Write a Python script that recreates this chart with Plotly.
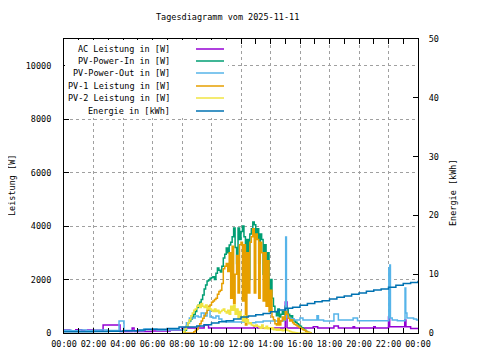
import numpy as np
import plotly.graph_objects as go

# ---------------- data ----------------
tick_hours = [0, 2, 4, 6, 8, 10, 12, 14, 16, 18, 20, 22, 24]
tick_labels = ["00:00", "02:00", "04:00", "06:00", "08:00", "10:00", "12:00",
               "14:00", "16:00", "18:00", "20:00", "22:00", "00:00"]

# AC Leistung [W] (hour, value)
ac_power = [(0, 110), (0.4, 75), (0.8, 120), (1.2, 90), (1.6, 110), (2.0, 100),
            (2.65, 300), (3.8, 60), (4.5, 60), (4.62, 190), (4.75, 60), (6.0, 75),
            (7.2, 110), (8.0, 190), (9.5, 300), (9.8, 190), (11.0, 190), (12.9, 230),
            (13.1, 190), (15.0, 1160), (15.12, 190), (16.2, 190), (16.9, 230),
            (17.2, 190), (18.3, 260), (18.6, 190), (19.6, 230), (19.7, 190),
            (21.0, 230), (21.1, 190), (22.0, 600), (22.08, 230), (23.1, 490),
            (23.18, 230), (23.5, 170), (24.0, 170)]

# PV-Power-Out [W]
pv_out = [(0, 100), (0.5, 80), (1.0, 110), (1.5, 90), (2.0, 100), (2.5, 110),
          (3.0, 90), (3.73, 450), (4.07, 90), (4.5, 80), (5.4, 150), (6.3, 110),
          (7.2, 120), (8.1, 150), (8.3, 380), (8.5, 560), (8.7, 560), (8.9, 640),
          (9.1, 600), (9.3, 750), (9.5, 640), (9.7, 850), (9.9, 600), (10.1, 560),
          (10.3, 640), (10.5, 520), (10.7, 450), (11.0, 410), (11.5, 410),
          (12.0, 410), (12.5, 380), (13.0, 410), (13.5, 450), (14.0, 450),
          (14.5, 450), (14.9, 490), (15.03, 3590), (15.08, 600), (15.3, 530),
          (15.6, 490), (16.0, 560), (16.2, 490), (16.6, 490), (17.15, 650),
          (17.25, 490), (17.6, 450), (18.3, 710), (18.6, 490), (19.6, 560),
          (19.9, 460), (22.02, 2430), (22.06, 600), (22.09, 2540), (22.13, 560),
          (22.25, 490), (22.6, 460), (23.12, 1680), (23.17, 750), (23.25, 560),
          (23.7, 520), (23.9, 490), (24.0, 490)]

# daytime grid (hours) for PV-Power-In, PV-1, PV-2
day_hours = np.round(np.arange(8.0, 16.85, 0.1), 1)

pv_in = [0, 0, 100, 260, 380, 450, 520, 600, 700, 800,
         950, 1050, 1150, 1250, 1420, 1650, 1800, 1950, 1980, 2050,
         2080, 2100, 2000, 2240, 2430, 2350, 2280, 2500, 2810, 2950,
         3180, 3000, 3290, 3400, 3600, 3930, 3200, 2600, 3930, 3500,
         3800, 4000, 3600, 2400, 3500, 2000, 3700, 3900, 4150, 4050,
         3600, 3900, 2600, 3700, 3500, 2200, 3300, 2000, 3000, 1500,
         2000, 1300, 1000, 800, 650, 900, 600, 700, 800, 700,
         1000, 900, 700, 600, 650, 500, 450, 400, 350, 300,
         250, 200, 150, 100, 60, 30, 0, 0, 0]

pv1 = [0, 0, 0, 0, 0, 0, 0, 0, 50, 100,
       150, 250, 350, 450, 550, 650, 750, 850, 1000, 1050,
       1150, 1200, 1250, 1300, 1450, 1550, 1600, 1850, 2400, 2500,
       2600, 2300, 3000, 1300, 3250, 1100, 2200, 2900, 1500, 3300,
       3400, 1200, 3300, 300, 3000, 1500, 3400, 3600, 3900, 1500,
       3700, 3500, 1300, 3400, 3000, 1200, 3000, 1000, 2700, 800,
       1600, 600, 500, 350, 300, 550, 300, 450, 600, 500,
       800, 700, 550, 450, 500, 380, 330, 300, 260, 220,
       190, 160, 120, 90, 60, 30, 15, 0, 0]

pv2 = [0, 50, 150, 250, 380, 500, 650, 750, 850, 900,
       1000, 1050, 950, 1100, 1000, 950, 1050, 900, 950, 900,
       850, 800, 900, 800, 850, 750, 800, 850, 900, 800,
       750, 850, 700, 1000, 850, 1050, 700, 900, 550, 800,
       600, 450, 650, 400, 500, 350, 380, 300, 280, 250,
       300, 250, 220, 180, 300, 200, 170, 250, 160, 200,
       150, 200, 120, 150, 100, 150, 100, 120, 80, 100,
       150, 100, 80, 60, 40, 30, 20, 10, 0, 0,
       0, 0, 0, 0, 0, 0, 0, 0, 0]

# Energie [kWh]
energy = [(0, 0.2), (1, 0.2), (2, 0.25), (3, 0.3), (4, 0.4), (5, 0.5), (5.5, 0.6),
          (6, 0.65), (7, 0.75), (7.8, 1.0), (8.5, 1.0), (9, 1.2), (9.5, 1.4),
          (10, 1.7), (10.5, 1.9), (11, 2.1), (11.5, 2.4), (12, 2.7), (12.5, 2.9),
          (13, 3.1), (13.5, 3.3), (14, 3.6), (14.5, 3.9), (15, 4.2), (15.5, 4.4),
          (16, 4.7), (16.5, 5.0), (17, 5.3), (17.5, 5.5), (18, 5.8), (18.5, 6.1),
          (19, 6.3), (19.5, 6.6), (20, 6.8), (20.5, 7.1), (21, 7.3), (21.5, 7.5),
          (22, 7.8), (22.5, 8.1), (23, 8.4), (23.5, 8.6), (24, 8.9)]

series_names = ["AC Leistung in [W]", "PV-Power-In in [W]", "PV-Power-Out in [W]",
                "PV-1 Leistung in [W]", "PV-2 Leistung in [W]", "Energie in [kWh]"]
series_colors = ["#9400D3", "#009E73", "#56B4E9", "#E69F00", "#F0E442", "#0072B2"]

# ---------------- figure ----------------
FONT = "DejaVu Sans Mono"
OFF = 8                      # page body margin of the browser
W, H = 480 - OFF, 360 - OFF
# target plot box in window pixels: x 64..418, y 39..333
PL, PR, PT, PB = 64, 418, 39, 333
L, T = PL - OFF, PT - OFF
R, B = W - (PR - OFF), H - (PB - OFF)
PW, PH = PR - PL, PB - PT


def px_x(x):
    return (x - PL) / PW


def px_y(y):
    return (PB - y) / PH


def unzip(pairs):
    return [p[0] for p in pairs], [p[1] for p in pairs]


fig = go.Figure()
lw = 1.5
x, y = unzip(ac_power)
fig.add_trace(go.Scatter(x=x, y=y, mode="lines", line=dict(color=series_colors[0], width=lw, shape="hv")))
fig.add_trace(go.Scatter(x=day_hours, y=pv_in, mode="lines", line=dict(color=series_colors[1], width=lw, shape="hv")))
x, y = unzip(pv_out)
fig.add_trace(go.Scatter(x=x, y=y, mode="lines", line=dict(color=series_colors[2], width=lw, shape="hv")))
fig.add_trace(go.Scatter(x=day_hours, y=pv1, mode="lines", line=dict(color=series_colors[3], width=lw, shape="hv")))
fig.add_trace(go.Scatter(x=day_hours, y=pv2, mode="lines", line=dict(color=series_colors[4], width=lw, shape="hv")))
x, y = unzip(energy)
fig.add_trace(go.Scatter(x=x, y=y, mode="lines", yaxis="y2", line=dict(color=series_colors[5], width=lw, shape="hv")))

grid = dict(showgrid=True, gridcolor="#a0a0a0", gridwidth=1, griddash="3px,3px")

fig.update_layout(
    width=W, height=H, autosize=False,
    margin=dict(l=L, r=R, t=T, b=B, pad=0),
    paper_bgcolor="white", plot_bgcolor="white",
    showlegend=False,
    font=dict(family=FONT, size=8.5, color="black"),
    xaxis=dict(range=[0, 24], tickmode="array", tickvals=tick_hours, ticktext=tick_labels,
               ticks="inside", ticklen=5, tickcolor="black",
               minor=dict(tickmode="linear", tick0=0, dtick=1, ticks="inside", ticklen=3,
                          tickcolor="black", showgrid=False),
               showline=True, linecolor="black", linewidth=1, mirror="allticks",
               zeroline=False, ticklabelstandoff=3, automargin=False, **grid),
    yaxis=dict(range=[0, 11000], dtick=2000, tickformat="d", ticks="inside", ticklen=5,
               tickcolor="black", showline=True, linecolor="black", linewidth=1,
               zeroline=False, ticklabelstandoff=10, automargin=False, **grid),
    yaxis2=dict(range=[0, 50], dtick=10, overlaying="y", side="right",
                ticks="inside", ticklen=5, tickcolor="black",
                showline=True, linecolor="black", linewidth=1, zeroline=False,
                showgrid=False, ticklabelstandoff=8, automargin=False),
)

# opaque key box
fig.add_shape(type="rect", xref="paper", yref="paper",
              x0=px_x(65), x1=px_x(228), y0=px_y(118), y1=px_y(40),
              fillcolor="white", line=dict(width=0), layer="above")

ann = [
    dict(text="Tagesdiagramm vom 2025-11-11", x=px_x(227), y=px_y(17), xref="paper", yref="paper",
         showarrow=False, xanchor="center", yanchor="middle"),
    dict(text="Leistung [W]", x=px_x(12), y=px_y(186), xref="paper", yref="paper",
         showarrow=False, textangle=-90, xanchor="center", yanchor="middle"),
    dict(text="Energie [kWh]", x=px_x(453), y=px_y(193), xref="paper", yref="paper",
         showarrow=False, textangle=-90, xanchor="center", yanchor="middle"),
]
rows = [49, 61, 73, 86, 98, 111]
for name, col, ry in zip(series_names, series_colors, rows):
    ann.append(dict(text=name, x=px_x(172), y=px_y(ry), xref="paper", yref="paper",
                    showarrow=False, xanchor="right", yanchor="middle"))
    fig.add_shape(type="line", xref="paper", yref="paper",
                  x0=px_x(196), x1=px_x(224), y0=px_y(ry), y1=px_y(ry),
                  line=dict(color=col, width=1.5))
fig.update_layout(annotations=ann)

fig.write_html("out.html")
